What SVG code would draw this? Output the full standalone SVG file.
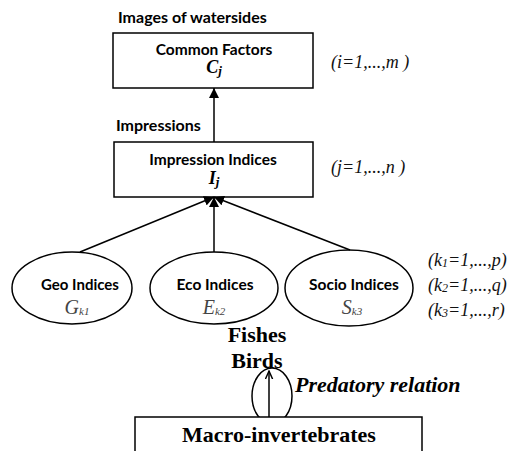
<svg xmlns="http://www.w3.org/2000/svg" width="513" height="451" viewBox="0 0 513 451">
<defs>
<marker id="ah" viewBox="0 0 10 10" refX="10" refY="5" markerWidth="10" markerHeight="10" markerUnits="userSpaceOnUse" orient="auto">
<path d="M0,0 L10,5 L0,10 z" fill="#000"/>
</marker>
<marker id="oh" viewBox="0 0 10 10" refX="9" refY="5" markerWidth="9" markerHeight="9" markerUnits="userSpaceOnUse" orient="auto">
<path d="M0,1 L9,5 L0,9" fill="none" stroke="#000" stroke-width="1.6"/>
</marker>
</defs>
<style>
.box{fill:#fff;stroke:#000;stroke-width:1.5}
.ell{fill:#fff;stroke:#000;stroke-width:1.5}
.sans{font-family:Lato,"Liberation Sans",sans-serif;font-weight:bold;fill:#000}
.math{font-family:"Liberation Serif",serif;font-style:italic;fill:#111}
.mathb{font-family:"Liberation Serif",serif;font-style:italic;font-weight:bold;fill:#000}
.sub{font-family:"Liberation Serif",serif;font-style:italic;fill:#444}
.tb{font-family:"Liberation Serif",serif;font-weight:bold;fill:#000}
.edge{stroke:#000;stroke-width:1.5;fill:none}
</style>
<text class="sans" x="118" y="23" font-size="16">Images of watersides</text>
<text class="sans" x="116" y="131" font-size="16">Impressions</text>
<g id="common">
<rect class="box" x="113" y="33" width="200" height="55"/>
<text class="sans" x="214" y="55" font-size="15.5" text-anchor="middle">Common Factors</text>
<text class="mathb" x="214" y="73" font-size="18" text-anchor="middle">C<tspan font-size="13" dy="2">j</tspan></text>
</g>
<text class="math" x="331" y="68" font-size="18">(i=1,...,m )</text>
<g id="impression">
<rect class="box" x="114" y="142" width="199" height="55"/>
<text class="sans" x="213" y="165" font-size="15.5" text-anchor="middle">Impression Indices</text>
<text class="mathb" x="214" y="184" font-size="18" text-anchor="middle">I<tspan font-size="13" dy="2">j</tspan></text>
</g>
<text class="math" x="331" y="173" font-size="18">(j=1,...,n )</text>
<g id="geo">
<ellipse class="ell" cx="72" cy="288" rx="60" ry="36"/>
<text class="sans" x="80" y="290" font-size="15" text-anchor="middle">Geo Indices</text>
<text class="sub" x="77" y="314" font-size="20" text-anchor="middle">G<tspan font-size="11" dy="1">k1</tspan></text>
</g>
<g id="eco">
<ellipse class="ell" cx="214" cy="288" rx="64" ry="36"/>
<text class="sans" x="215" y="290" font-size="15.5" text-anchor="middle">Eco Indices</text>
<text class="sub" x="214" y="314" font-size="20" text-anchor="middle">E<tspan font-size="11" dy="1">k2</tspan></text>
</g>
<g id="socio">
<ellipse class="ell" cx="349" cy="288" rx="64" ry="38"/>
<text class="sans" x="354" y="290" font-size="15.5" text-anchor="middle">Socio Indices</text>
<text class="sub" x="352" y="314" font-size="20" text-anchor="middle">S<tspan font-size="11" dy="1">k3</tspan></text>
</g>
<text class="math" x="428" y="266" font-size="18">(k<tspan font-size="12" dy="1">1</tspan><tspan dy="-1">=1,...,p)</tspan></text>
<text class="math" x="428" y="291" font-size="18">(k<tspan font-size="12" dy="1">2</tspan><tspan dy="-1">=1,...,q)</tspan></text>
<text class="math" x="428" y="316" font-size="18">(k<tspan font-size="12" dy="1">3</tspan><tspan dy="-1">=1,...,r)</tspan></text>
<g id="fishes">
<text class="tb" x="257" y="342" font-size="22" text-anchor="middle">Fishes</text>
</g>
<g id="birds">
<text class="tb" x="257" y="368" font-size="22" text-anchor="middle">Birds</text>
</g>
<g id="predatory">
<ellipse class="ell" cx="272" cy="396" rx="20" ry="28"/>
<text class="tb" x="295" y="392" font-size="22" font-style="italic">Predatory relation</text>
</g>
<g id="macro">
<rect class="box" x="135" y="417" width="287" height="40"/>
<text class="tb" x="279" y="442" font-size="22" text-anchor="middle">Macro-invertebrates</text>
</g>
<g id="connectors">
<line class="edge" x1="214" y1="142" x2="214" y2="88" marker-end="url(#ah)"/>
<line class="edge" x1="80" y1="252" x2="214" y2="197" marker-end="url(#ah)"/>
<line class="edge" x1="214" y1="252" x2="214" y2="197" marker-end="url(#ah)"/>
<line class="edge" x1="350" y1="250" x2="214" y2="197" marker-end="url(#ah)"/>
<line class="edge" x1="269" y1="417" x2="269" y2="371" stroke-width="1.8" marker-end="url(#oh)"/>
</g>
</svg>
